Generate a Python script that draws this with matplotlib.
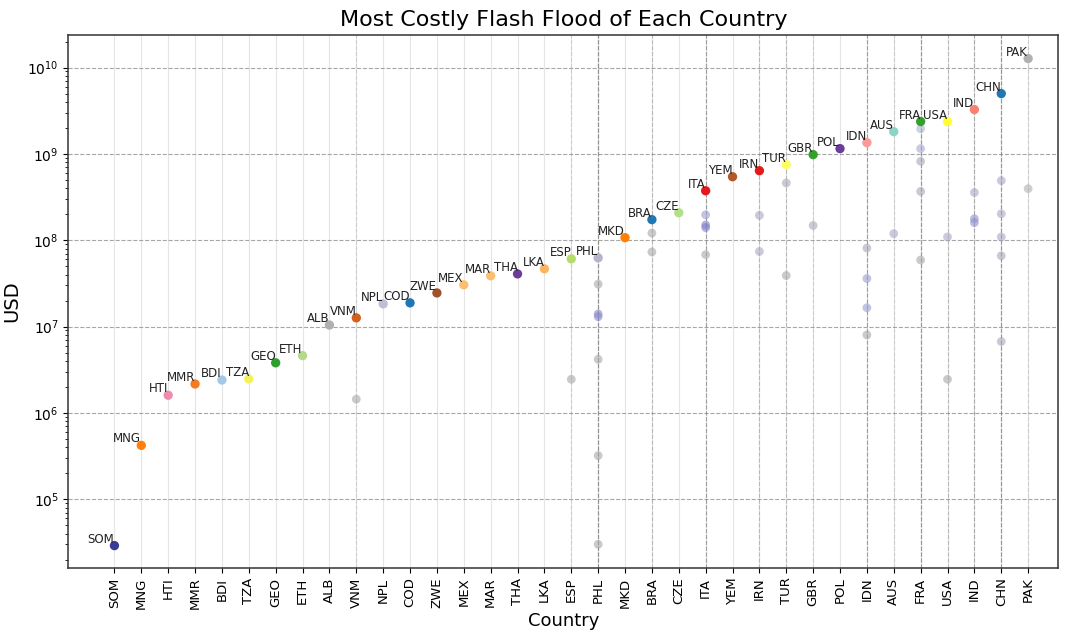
import matplotlib
matplotlib.use("Agg")
import matplotlib.pyplot as plt
from matplotlib.ticker import NullFormatter
import numpy as np

countries = ["SOM", "MNG", "HTI", "MMR", "BDI", "TZA", "GEO", "ETH", "ALB", "VNM",
             "NPL", "COD", "ZWE", "MEX", "MAR", "THA", "LKA", "ESP", "PHL", "MKD",
             "BRA", "CZE", "ITA", "YEM", "IRN", "TUR", "GBR", "POL", "IDN", "AUS",
             "FRA", "USA", "IND", "CHN", "PAK"]

max_cost = [2.9e4, 4.2e5, 1.6e6, 2.16e6, 2.4e6, 2.47e6, 3.8e6, 4.6e6, 1.04e7, 1.26e7,
            1.83e7, 1.88e7, 2.45e7, 3.04e7, 3.87e7, 4.07e7, 4.66e7, 6.08e7, 6.25e7, 1.07e8,
            1.73e8, 2.08e8, 3.74e8, 5.43e8, 6.38e8, 7.5e8, 9.8e8, 1.15e9, 1.35e9, 1.81e9,
            2.37e9, 2.37e9, 3.26e9, 4.99e9, 1.27e10]

max_colors = ["#3b3b98", "#ff7f0e", "#f08bb0", "#f47c20", "#a6c8e8", "#f2f25a", "#2ca02c", "#b5d98b",
              "#b0b0b0", "#d35f1b", "#c4bcd2", "#1f77b4", "#a0522d", "#fdbf6f", "#fdbf6f", "#6a3d9a",
              "#fdb462", "#b3de69", "#b8b4cc", "#ff7f00", "#1f78b4", "#b2df8a", "#e31a1c", "#b15928",
              "#e31a1c", "#ffff66", "#33a02c", "#6a3d9a", "#fb9a99", "#8dd3c7", "#33a02c", "#ffff33",
              "#fb8072", "#1f78b4", "#b0b0b0"]

other_country = ["VNM", "ESP",
                 "PHL", "PHL", "PHL", "PHL", "PHL", "PHL",
                 "BRA", "BRA",
                 "ITA", "ITA", "ITA", "ITA",
                 "IRN", "IRN",
                 "TUR", "TUR",
                 "GBR",
                 "IDN", "IDN", "IDN", "IDN",
                 "AUS",
                 "FRA", "FRA", "FRA", "FRA", "FRA",
                 "USA", "USA",
                 "IND", "IND", "IND",
                 "CHN", "CHN", "CHN", "CHN", "CHN",
                 "PAK"]
other_cost = [1.44e6, 2.45e6,
              3.1e7, 1.4e7, 1.3e7, 4.17e6, 3.2e5, 3.0e4,
              1.21e8, 7.3e7,
              1.97e8, 1.5e8, 1.4e8, 6.8e7,
              1.94e8, 7.4e7,
              4.6e8, 3.9e7,
              1.48e8,
              8.1e7, 3.6e7, 1.65e7, 8.0e6,
              1.19e8,
              1.95e9, 1.15e9, 8.2e8, 3.67e8, 5.9e7,
              1.09e8, 2.45e6,
              3.57e8, 1.77e8, 1.6e8,
              4.9e8, 2.02e8, 1.09e8, 6.6e7, 6.7e6,
              3.95e8]
other_colors = ["#a8a8a8", "#a8a8a8",
                "#a8a8a8", "#8888cc", "#8888cc", "#a8a8a8", "#a8a8a8", "#a8a8a8",
                "#a8a8a8", "#a8a8a8",
                "#9c9cd0", "#8080c8", "#8080c8", "#a8a8a8",
                "#a8a8c0", "#a8a8c0",
                "#a8a8b8", "#a8a8a8",
                "#a8a8b8",
                "#a8a8b8", "#9c9cd0", "#9c9cd0", "#a8a8a8",
                "#a8a8c8",
                "#a8b8c8", "#a8a8d8", "#a8a8b8", "#a8a8b8", "#a8a8a8",
                "#a8a8c8", "#a8a8a8",
                "#a8a8c8", "#9090cc", "#9090cc",
                "#a8a8c8", "#a8a8c8", "#a8a8c8", "#a8a8b8", "#a8a8b8",
                "#b0b0b0"]

fig, ax = plt.subplots(figsize=(10.7, 6.31), dpi=100)
fig.subplots_adjust(left=0.064, right=0.989, top=0.945, bottom=0.10)

xpos = {c: i for i, c in enumerate(countries)}

# faint vertical guide per country
for i in range(len(countries)):
    ax.axvline(i, color="#cccccc", lw=0.8, alpha=0.5, zorder=0)
# darker dashed guides where there are several floods
for c in other_country:
    ax.axvline(xpos[c], color="gray", lw=0.8, ls="--", alpha=0.25, zorder=0)

ax.set_yscale("log")
ax.grid(True, axis="y", which="major", color="gray", ls="--", lw=0.8, alpha=0.7)

ox = [xpos[c] for c in other_country]
ax.scatter(ox, other_cost, c=other_colors, s=40, alpha=0.6, zorder=2, edgecolors="none")
ax.scatter(range(len(countries)), max_cost, c=max_colors, s=45, zorder=3, edgecolors="none")

for i, (c, v) in enumerate(zip(countries, max_cost)):
    ax.text(i, v, c, ha="right", va="bottom", fontsize=8.5, color="#222222", zorder=4)

for s in ax.spines.values():
    s.set_linewidth(1.1)
    s.set_color("#333333")

ax.set_xticks(range(len(countries)))
ax.set_xticklabels(countries, rotation=90, fontsize=9.5)
ax.set_xlim(-1.71, len(countries) - 1 + 1.12)
ax.set_ylim(1.6e4, 2.4e10)
ax.yaxis.set_minor_formatter(NullFormatter())
ax.tick_params(axis="y", labelsize=10)
ax.set_xlabel("Country", fontsize=13, labelpad=2)
ax.set_ylabel("USD", fontsize=14)
ax.set_title("Most Costly Flash Flood of Each Country", fontsize=16)

fig.savefig("out.png", dpi=100)
